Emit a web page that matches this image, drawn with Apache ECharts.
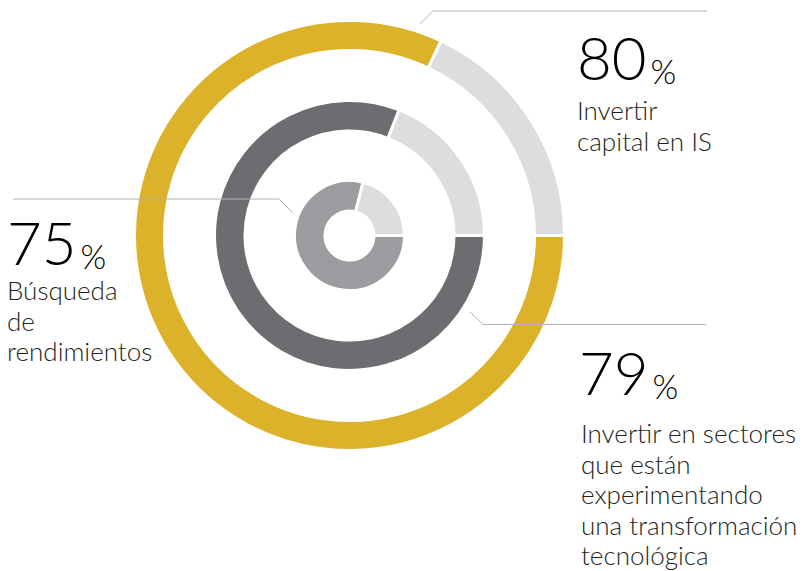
<!DOCTYPE html>
<html>
<head>
<meta charset="utf-8">
<script src="https://cdn.jsdelivr.net/npm/echarts@6/dist/echarts.min.js"></script>
<style>
  html, body { margin: 0; padding: 0; background: #fff; }
  #chart { width: 806px; height: 571px; }
</style>
</head>
<body>
<div id="chart"></div>
<script>
// valores mostrados en el texto
const percents = [80, 79, 75]
const descriptions = [
  'Invertir\ncapital en IS',
  'Invertir en sectores\nque están\nexperimentando\nuna transformación\ntecnológica',
  'Búsqueda\nde\nrendimientos'
]
// proporción dibujada en cada anillo (color / resto)
const outerRing = [82, 18]
const middleRing = [81, 19]
const innerRing = [79, 21]
const ringColors = ['#dbb229', '#6c6d70', '#9b9c9f']
const restColor = '#dcdddf'

const chart = echarts.init(document.getElementById('chart'), null, { renderer: 'svg' })

const center = [349.5, 235.5]
const font = 'Lato, "Open Sans", sans-serif'
const textColor = '#231f20'

const ring = (values, color, radius) => ({
  type: 'pie',
  center: center,
  radius: radius,
  startAngle: 0,
  clockwise: true,
  silent: true,
  label: { show: false },
  labelLine: { show: false },
  itemStyle: { borderColor: '#fff', borderWidth: 3 },
  emphasis: { disabled: true },
  data: [
    { value: values[0], itemStyle: { color: color } },
    { value: values[1], itemStyle: { color: restColor } }
  ]
})

const leader = (points) => ({
  type: 'polyline',
  z: 100,
  silent: true,
  shape: { points: points },
  style: { stroke: '#b1b2b4', lineWidth: 1, fill: null }
})

const bigNumber = (value, x, y) => ({
  type: 'text',
  x: x,
  y: y,
  z: 100,
  style: {
    text: '{n|' + value + '}{p|%}',
    verticalAlign: 'top',
    rich: {
      n: { fontFamily: font, fontWeight: 300, fontSize: 60, lineHeight: 62, color: textColor, verticalAlign: 'bottom' },
      p: { fontFamily: font, fontWeight: 300, fontSize: 33, lineHeight: 40, color: textColor, verticalAlign: 'bottom', padding: [0, 0, 0, 4] }
    }
  }
})

const description = (text, x, y) => ({
  type: 'text',
  x: x,
  y: y,
  z: 100,
  style: {
    text: text,
    verticalAlign: 'top',
    fontFamily: font,
    fontWeight: 300,
    fontSize: 26,
    lineHeight: 30.5,
    fill: textColor
  }
})

chart.setOption({
  animation: false,
  series: [
    ring(outerRing, ringColors[0], [185, 215]),
    ring(middleRing, ringColors[1], [104.5, 135]),
    ring(innerRing, ringColors[2], [24.5, 55])
  ],
  graphic: [
    leader([[420, 24], [433, 11], [707, 11]]),
    leader([[13, 199], [279, 199], [293, 213]]),
    leader([[470, 312], [483, 324.5], [706, 324.5]]),
    bigNumber(percents[0], 577, 25),
    description(descriptions[0], 577, 95),
    bigNumber(percents[2], 7, 210),
    description(descriptions[2], 7, 275),
    bigNumber(percents[1], 579, 340),
    description(descriptions[1], 581, 418)
  ]
})
</script>
</body>
</html>
